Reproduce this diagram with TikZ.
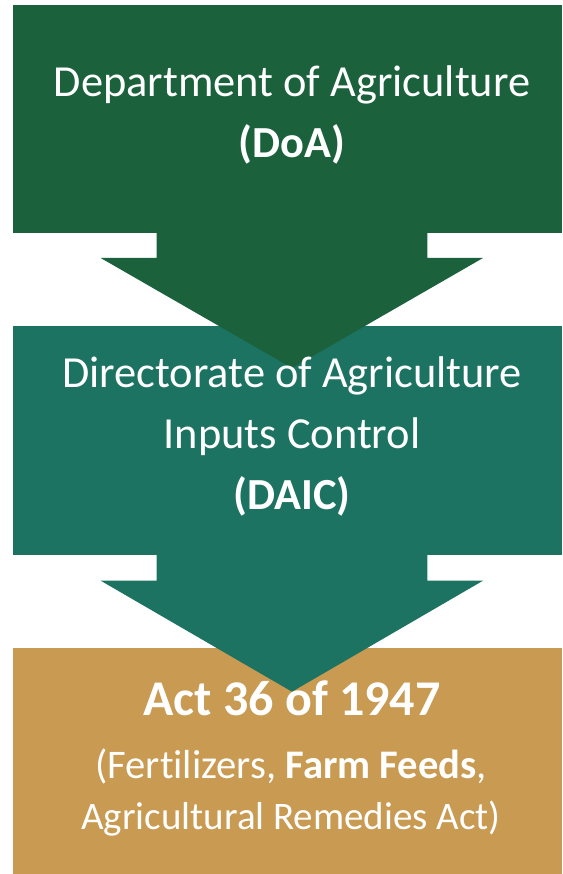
\documentclass[tikz,border=0pt]{standalone}
\usepackage{fontspec}
\setmainfont{Carlito}[Ligatures=NoCommon]
\definecolor{doagreen}{HTML}{1A613C}
\definecolor{daicteal}{HTML}{1D7362}
\definecolor{acttan}{HTML}{C89A52}
\begin{document}
\begin{tikzpicture}[x=1pt,y=-1pt,
  panel/.style={fill=#1,draw=none},
  flowarrow/.style={fill=#1,draw=none},
  txt/.style={text=white,anchor=base,inner sep=0pt,font=\fontsize{44.4}{52}\selectfont},
  txtsmall/.style={text=white,anchor=base,inner sep=0pt,font=\fontsize{#1}{48}\selectfont},
  txtbig/.style={text=white,anchor=base,inner sep=0pt,font=\fontsize{50}{60}\selectfont\bfseries}]
\useasboundingbox (0,0) rectangle (562,874);
% panels
\fill[panel=doagreen] (13,5) rectangle (562,233);
\fill[panel=daicteal] (13,326) rectangle (562,554.7);
\fill[panel=acttan] (13,648) rectangle (562,874);
% arrows
\fill[flowarrow=doagreen] (156.7,230) -- (427.3,230) -- (427.3,258) -- (483,258) -- (292,368) -- (100.7,258) -- (156.7,258) -- cycle;
\fill[flowarrow=daicteal] (156.7,552) -- (427.3,552) -- (427.3,580.7) -- (483,580.7) -- (292,691.7) -- (100.7,580.7) -- (156.7,580.7) -- cycle;
% texts
\node[txt] (doa1) at (292,97) {Department of Agriculture};
\node[txt,font=\fontsize{44.4}{52}\selectfont\bfseries] (doa2) at (292,158) {(DoA)};
\node[txt] (daic1) at (292,387) {Directorate of Agriculture};
\node[txt] (daic2) at (292,448) {Inputs Control};
\node[txt,font=\fontsize{44.4}{52}\selectfont\bfseries] (daic3) at (292,509) {(DAIC)};
\node[txtbig] (act1) at (292,715) {Act 36 of 1947};
\node[txtsmall=40.6] (act2) at (291,778) {(Fertilizers, \textbf{Farm Feeds},};
\node[txtsmall=39] (act3) at (291,829) {Agricultural Remedies Act)};
\end{tikzpicture}
\end{document}
